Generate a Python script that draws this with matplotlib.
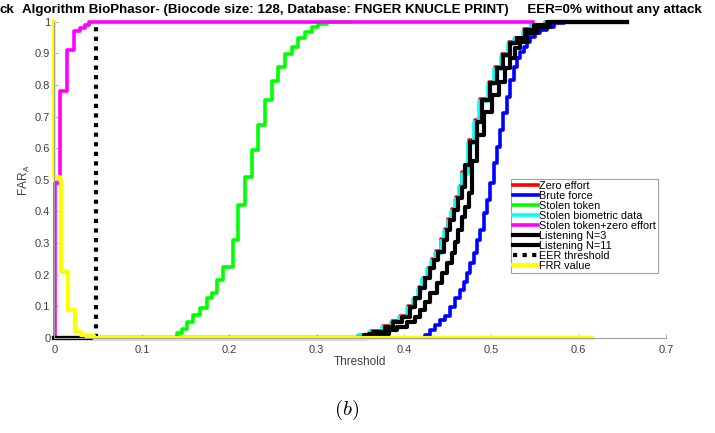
import matplotlib
matplotlib.use('Agg')
import matplotlib.pyplot as plt

plt.rcParams['font.family'] = ['Liberation Sans', 'DejaVu Sans']
plt.rcParams['mathtext.fontset'] = 'cm'

# FAR_A staircase curves, (threshold, FAR) corner points
zero_x = [0, 0.350, 0.362, 0.376, 0.386, 0.395, 0.405, 0.411, 0.417, 0.422, 0.428, 0.432,
          0.437, 0.443, 0.447, 0.451, 0.455, 0.460, 0.464, 0.467, 0.474, 0.481, 0.487,
          0.497, 0.504, 0.512, 0.520, 0.527, 0.537, 0.546, 0.562, 0.650]
zero_y = [0, 0.010, 0.022, 0.038, 0.054, 0.070, 0.100, 0.128, 0.160, 0.190, 0.222, 0.250,
          0.276, 0.313, 0.344, 0.376, 0.408, 0.445, 0.480, 0.525, 0.625, 0.688, 0.756,
          0.810, 0.857, 0.898, 0.935, 0.950, 0.976, 0.991, 1.000, 1.000]

brute_x = [0, 0.4244, 0.4301, 0.4358, 0.4416, 0.4473, 0.453, 0.4588, 0.4645, 0.4683, 0.4721,
           0.476, 0.4797, 0.4836, 0.4874, 0.4912, 0.495, 0.4989, 0.5026, 0.5065, 0.5103,
           0.514, 0.518, 0.5218, 0.5255, 0.5294, 0.5332, 0.537, 0.541, 0.5447, 0.5504,
           0.5561, 0.5638, 0.5714, 0.5828, 0.600]
brute_y = [0, 0.010, 0.025, 0.041, 0.057, 0.068, 0.099, 0.125, 0.152, 0.178, 0.204,
           0.236, 0.268, 0.310, 0.341, 0.394, 0.436, 0.489, 0.552, 0.605, 0.658,
           0.710, 0.763, 0.816, 0.858, 0.884, 0.905, 0.921, 0.937, 0.953, 0.963,
           0.974, 0.984, 0.995, 1.000, 1.000]

token_x = [0, 0.140, 0.1457, 0.1514, 0.159, 0.1667, 0.1743, 0.180, 0.1858, 0.1934, 0.2048,
           0.2105, 0.2182, 0.2259, 0.2334, 0.2411, 0.2488, 0.2564, 0.264, 0.2717, 0.2793,
           0.287, 0.2944, 0.302, 0.3118, 0.323, 0.340]
token_y = [0, 0.015, 0.030, 0.050, 0.073, 0.094, 0.125, 0.141, 0.183, 0.225, 0.309,
           0.420, 0.509, 0.593, 0.672, 0.751, 0.814, 0.856, 0.898, 0.919, 0.950,
           0.966, 0.982, 0.993, 0.998, 1.000, 1.000]

biom_x = [0, 0.348, 0.360, 0.375, 0.385, 0.394, 0.404, 0.410, 0.416, 0.421, 0.427, 0.431,
          0.436, 0.442, 0.446, 0.450, 0.454, 0.459, 0.463, 0.466, 0.473, 0.480, 0.486,
          0.496, 0.503, 0.511, 0.519, 0.526, 0.536, 0.545, 0.561, 0.650]
biom_y = [0, 0.008, 0.020, 0.035, 0.050, 0.066, 0.096, 0.122, 0.155, 0.186, 0.218, 0.244,
          0.270, 0.306, 0.338, 0.370, 0.402, 0.440, 0.476, 0.520, 0.618, 0.682, 0.750,
          0.803, 0.851, 0.893, 0.930, 0.946, 0.972, 0.989, 1.000, 1.000]

tz_x = [0, 0.001, 0.006, 0.0143, 0.0226, 0.029, 0.035, 0.040, 0.548]
tz_y = [0, 0.49, 0.78, 0.91, 0.97, 0.98, 0.99, 1.00, 1.00]

l3_x = [0, 0.354, 0.365, 0.3786, 0.388, 0.3977, 0.407, 0.413, 0.4187, 0.4244, 0.4301, 0.434,
        0.4396, 0.4454, 0.4493, 0.453, 0.4568, 0.4625, 0.4664, 0.470, 0.476, 0.4836, 0.4893,
        0.4989, 0.5065, 0.514, 0.5218, 0.5294, 0.539, 0.5484, 0.5638, 0.655]
l3_y = [0, 0.010, 0.020, 0.036, 0.052, 0.067, 0.099, 0.125, 0.157, 0.189, 0.220, 0.247,
        0.273, 0.310, 0.341, 0.373, 0.405, 0.442, 0.478, 0.547, 0.621, 0.684, 0.752,
        0.805, 0.853, 0.895, 0.932, 0.948, 0.974, 0.990, 1.000, 1.000]

l11_x = [0, 0.360, 0.3824, 0.392, 0.4034, 0.413, 0.4187, 0.4244, 0.4301, 0.4378, 0.4435,
         0.4493, 0.455, 0.4588, 0.4625, 0.4664, 0.470, 0.474, 0.478, 0.4836, 0.4912, 0.5008,
         0.5084, 0.516, 0.5218, 0.5275, 0.5332, 0.5409, 0.5523, 0.5676, 0.655]
l11_y = [0, 0.012, 0.025, 0.036, 0.052, 0.067, 0.089, 0.115, 0.141, 0.173, 0.205,
         0.236, 0.268, 0.305, 0.341, 0.384, 0.415, 0.457, 0.560, 0.642, 0.715, 0.768,
         0.810, 0.853, 0.884, 0.916, 0.937, 0.963, 0.984, 1.000, 1.000]

frr_x = [0, 0, 0.006, 0.007, 0.016, 0.024, 0.030, 0.036, 0.045, 0.615]
frr_y = [1, 0.51, 0.50, 0.21, 0.09, 0.02, 0.01, 0.005, 0, 0]

eer_thr = 0.047

fig = plt.figure(figsize=(7.15, 4.33), dpi=100)
ax = fig.add_axes([0.0762, 0.2194, 0.8552, 0.7305])

kw = dict(where='post', clip_on=False)
ax.step(zero_x, zero_y, color='#ff0000', lw=2.6, label='Zero effort', **kw)
ax.step(brute_x, brute_y, color='#0000ff', lw=2.6, label='Brute force', **kw)
ax.step(token_x, token_y, color='#00ff00', lw=2.6, label='Stolen token', **kw)
ax.step(biom_x, biom_y, color='#00ffff', lw=2.6, label='Stolen biometric data', **kw)
ax.step(tz_x, tz_y, color='#ff00ff', lw=2.6, label='Stolen token+zero effort', **kw)
ax.step(l3_x, l3_y, color='black', lw=3, label='Listening N=3', **kw)
ax.step(l11_x, l11_y, color='black', lw=3, label='Listening N=11', **kw)
ax.plot([eer_thr, eer_thr], [0, 1], color='black', lw=3, ls=(0, (1, 1.3)),
        label='EER threshold', clip_on=False)
ax.step(frr_x, frr_y, color='#ffff00', lw=3, label='FRR value', **kw)

ax.set_xlim(0, 0.7)
ax.set_ylim(0, 1)
ax.set_xticks([0, 0.1, 0.2, 0.3, 0.4, 0.5, 0.6, 0.7])
ax.set_xticklabels(['0', '0.1', '0.2', '0.3', '0.4', '0.5', '0.6', '0.7'])
ax.set_yticks([0, 0.1, 0.2, 0.3, 0.4, 0.5, 0.6, 0.7, 0.8, 0.9, 1])
ax.set_yticklabels(['0', '0.1', '0.2', '0.3', '0.4', '0.5', '0.6', '0.7', '0.8', '0.9', '1'])
ax.tick_params(direction='in', length=3, width=0.6, labelsize=8, colors='#404040',
               color='#a0a0a0', pad=3)
ax.tick_params(axis='x', pad=5)
for s in ['top', 'right']:
    ax.spines[s].set_visible(False)
for s in ['left', 'bottom']:
    ax.spines[s].set_color('#a0a0a0')
    ax.spines[s].set_linewidth(0.8)

ax.set_xlabel('Threshold', fontsize=8.5, color='#404040', labelpad=1)
ax.set_ylabel('FAR$_\\mathregular{A}$', fontsize=8.5, color='#404040', labelpad=2)

leg = ax.legend(loc='lower left', bbox_to_anchor=(0.7465, 0.2055), borderaxespad=0,
                fontsize=7.8, labelspacing=0.0, handlelength=2.3, handletextpad=0.1,
                borderpad=0.2, fancybox=False, framealpha=1)
leg.get_frame().set_edgecolor('#a0a0a0')
leg.get_frame().set_linewidth(0.8)

fig.text(0.0, 0.977, 'ck', fontsize=9.6, fontweight='bold', va='center', ha='left')
fig.text(0.031, 0.977,
         'Algorithm BioPhasor- (Biocode size: 128, Database: FNGER KNUCLE PRINT)'
         '     EER=0% without any attack',
         fontsize=9.6, fontweight='bold', va='center', ha='left')
fig.text(0.485, 0.053, '$(b)$', fontsize=15, ha='center', va='center')

fig.savefig('out.png', dpi=100)
